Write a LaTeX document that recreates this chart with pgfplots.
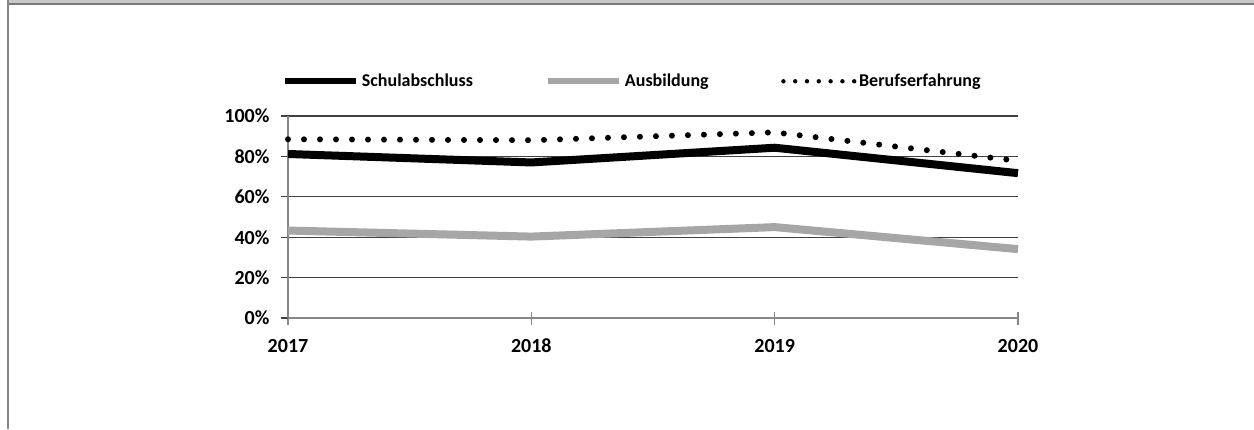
\documentclass[border=0pt]{standalone}
\usepackage{fontspec}
\setmainfont{Carlito}
\usepackage{pgfplots}
\pgfplotsset{compat=1.18}

\definecolor{lgray}{RGB}{166,166,166}
\definecolor{band}{RGB}{200,200,200}
\definecolor{frameline}{RGB}{120,120,120}
\definecolor{gridc}{RGB}{64,64,64}
\definecolor{axisc}{RGB}{134,134,134}

\pgfplotstableread{
year Schulabschluss Ausbildung Berufserfahrung
0 81.2 43.3 88.5
1 77.0 40.3 88.0
2 84.3 45.0 91.9
3 71.7 34.1 77.8
}\quoten

\begin{document}
\begin{tikzpicture}[x=1pt,y=1pt]
\useasboundingbox (0,0) rectangle (627,-214.5);
\fill[white] (0,0) rectangle (627,-214.5);
% window frame
\fill[band] (4.35,0) rectangle (627,-1.5);
\fill[frameline] (4.35,-1.5) rectangle (627,-2.5);
\fill[axisc] (3.5,0) rectangle (4.35,-214.5);

\begin{axis}[
  at={(144pt,-159pt)}, anchor=south west,
  scale only axis, width=365pt, height=101pt,
  xmin=0, xmax=3, ymin=0, ymax=100,
  clip=false,
  separate axis lines,
  axis x line*=bottom, axis y line*=left,
  axis line style={-},
  x axis line style={axisc, line width=0.6pt},
  y axis line style={axisc, line width=0.6pt},
  xtick pos=bottom, ytick pos=left,
  xtick={0,1,2,3},
  xticklabels={2017,2018,2019,2020},
  ytick={0,20,40,60,80,100},
  xtick align=center, ytick align=outside,
  xtick style={axisc, line width=0.6pt, /pgfplots/major tick length=6.5pt},
  ytick style={gridc, line width=0.6pt, /pgfplots/major tick length=3.5pt},
  ymajorgrids, major grid style={gridc, line width=0.6pt},
  /pgf/number format/assume math mode=true,
  yticklabel={\pgfmathprintnumber{\tick}\%},
  ticklabel style={font=\bfseries\fontsize{10}{12}\selectfont},
  yticklabel style={xshift=-1.5pt},
  xticklabel style={anchor=north, text height=7pt, text depth=0pt, yshift=-4.5pt},
  legend columns=3,
  legend style={
    draw=none, fill=none,
    at={(0,1)}, anchor=south west, xshift=-6pt, yshift=10pt,
    font=\bfseries\fontsize{9}{11}\selectfont,
    /tikz/every even column/.append style={column sep=35pt},
    nodes={inner sep=1.25pt},
  },
  legend image code/.code={\draw[#1] (0pt,0pt) -- (35.5pt,0pt);},
]
\addplot[black, line width=4pt, line join=round,
  legend image post style={line width=3pt}]
  table[x=year, y=Schulabschluss] {\quoten};
\addlegendentry{Schulabschluss}
\addplot[lgray, line width=4pt, line join=round,
  legend image post style={line width=3pt}]
  table[x=year, y=Ausbildung] {\quoten};
\addlegendentry{Ausbildung}
\addplot[black, line width=3pt, line cap=round, dash pattern=on 0pt off 8pt,
  legend image post style={line width=2.2pt, dash pattern=on 0pt off 5.9pt}]
  table[x=year, y=Berufserfahrung] {\quoten};
\addlegendentry{Berufserfahrung}
\end{axis}
\end{tikzpicture}
\end{document}
